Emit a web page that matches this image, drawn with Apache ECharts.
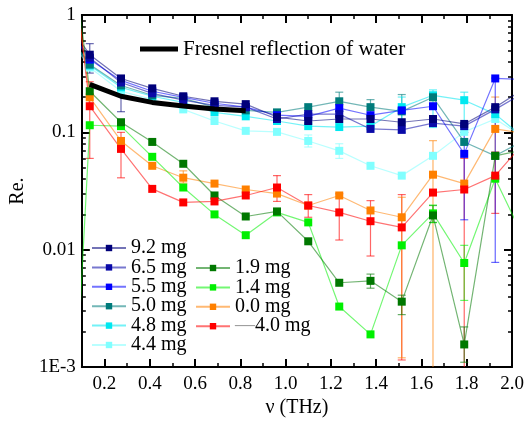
<!DOCTYPE html>
<html>
<head>
<meta charset="utf-8">
<script src="https://cdn.jsdelivr.net/npm/echarts@6/dist/echarts.min.js"></script>
<style>
  html, body { margin: 0; padding: 0; background: #fff; }
  #chart { width: 528px; height: 423px; }
</style>
</head>
<body>
<div id="chart"></div>
<script>
// frequencies (THz); first and last points lie outside the visible range
const freq = [-0.003, 0.135, 0.273, 0.411, 0.548, 0.686, 0.824, 0.962, 1.1, 1.237, 1.375, 1.513, 1.651, 1.789, 1.926, 2.064];

// reflectance per sample mass
const m92 = [1.1, 0.459, 0.288, 0.237, 0.203, 0.184, 0.174, 0.135, 0.125, 0.130, 0.130, 0.122, 0.130, 0.118, 0.164, 0.242];
const m65 = [1.0, 0.433, 0.266, 0.215, 0.188, 0.170, 0.164, 0.130, 0.143, 0.143, 0.107, 0.105, 0.120, 0.113, 0.157, 0.224];
const m55 = [1.0, 0.417, 0.277, 0.224, 0.199, 0.177, 0.164, 0.140, 0.137, 0.161, 0.140, 0.154, 0.167, 0.0656, 0.288, 0.282];
const m50 = [0.9, 0.378, 0.251, 0.207, 0.195, 0.164, 0.154, 0.148, 0.164, 0.184, 0.164, 0.151, 0.199, 0.0829, 0.0631, 0.0879];
const m48 = [0.9, 0.371, 0.242, 0.203, 0.180, 0.148, 0.137, 0.125, 0.113, 0.111, 0.113, 0.164, 0.207, 0.188, 0.143, 0.0862];
const m44 = [0.85, 0.357, 0.224, 0.191, 0.157, 0.125, 0.103, 0.101, 0.0845, 0.0696, 0.0519, 0.0428, 0.0631, 0.101, 0.130, 0.0879];
const m19 = [30, 0.224, 0.122, 0.0829, 0.0540, 0.0290, 0.0192, 0.0212, 0.0118, 0.00523, 0.00543, 0.00361, 0.0196, 0.00156, 0.0631, 0.072];
const m14 = [1e-6, 0.115, 0.113, 0.0619, 0.0339, 0.0200, 0.0133, 0.0208, 0.0171, 0.00328, 0.00190, 0.0109, 0.0204, 0.00771, 0.0403, 0.0112];
const m00 = [20, 0.199, 0.0845, 0.0519, 0.0411, 0.0366, 0.0326, 0.0301, 0.0238, 0.0290, 0.0216, 0.0189, 0.0436, 0.0366, 0.107, 0.0969];
const mNeg40 = [30, 0.167, 0.0723, 0.0330, 0.0253, 0.0258, 0.0290, 0.0339, 0.0238, 0.0208, 0.0175, 0.0155, 0.0307, 0.0326, 0.0428, 0.0862];

// Fresnel reflection of water, on freq[1..6]
const fresnel = [0.256, 0.203, 0.180, 0.168, 0.158, 0.153];

// error bars: [freq, low, high]
const errNeg40 = [[0.135, 0.06, 0.27], [0.273, 0.041, 0.10], [0.962, 0.0258, 0.0428], [1.1, 0.0189, 0.0295],
  [1.237, 0.0121, 0.03], [1.375, 0.00884, 0.0262], [1.513, 0.00115, 0.0295], [1.789, 0.0001, 0.06], [1.926, 0.0204, 0.068]];
const err00 = [[0.548, 0.037, 0.047], [1.513, 0.0012, 0.028], [1.651, 0.0001, 0.085], [1.926, 0.04, 0.2]];
const err55 = [[1.789, 0.018, 0.1], [1.926, 0.0078, 0.29]];
const err92 = [[0.135, 0.32, 0.57], [0.273, 0.15, 0.30]];
const err50 = [[1.237, 0.15, 0.22], [1.375, 0.14, 0.19], [1.513, 0.12, 0.21]];
const err48 = [[1.513, 0.10, 0.20], [1.651, 0.11, 0.23], [1.789, 0.10, 0.22]];
const err44 = [[1.1, 0.075, 0.095], [1.237, 0.06, 0.08]];
const err19 = [[1.375, 0.0047, 0.0062], [1.513, 0.0028, 0.0041], [1.651, 0.0171, 0.0238], [1.789, 0.0011, 0.0022]];
const err14 = [[1.789, 0.0037, 0.0109], [1.651, 0.017, 0.024]];

// tick positions
const xMajor = [0.2, 0.4, 0.6, 0.8, 1.0, 1.2, 1.4, 1.6, 1.8, 2.0];
const xMinor = [0.1, 0.3, 0.5, 0.7, 0.9, 1.1, 1.3, 1.5, 1.7, 1.9];
const yMajor = [0.001, 0.01, 0.1, 1];
const yMinor = [];
[0.001, 0.01, 0.1].forEach(d => { for (let k = 2; k <= 9; k++) yMinor.push(+(k * d).toPrecision(3)); });

const FONT = "'Liberation Serif', 'DejaVu Serif', serif";
const chart = echarts.init(document.getElementById('chart'));

const lineSeries = (name, vals, color) => ({
  name,
  type: 'line',
  data: vals.map((v, i) => [freq[i], v]),
  symbol: 'rect',
  symbolSize: 8,
  clip: true,
  itemStyle: { color },
  lineStyle: { color, width: 1.2, opacity: 0.55 },
  z: 3,
});

const errSeries = (errs, color) => ({
  type: 'custom',
  data: errs,
  silent: true,
  z: 2,
  renderItem: (params, api) => {
    const x = api.value(0);
    const loRaw = api.value(1), hiRaw = api.value(2);
    const lo = Math.max(loRaw, 0.001), hi = Math.min(hiRaw, 1);
    const p1 = api.coord([x, hi]);
    const p2 = api.coord([x, lo]);
    const style = { stroke: color, lineWidth: 1.2, opacity: 0.6 };
    const children = [{ type: 'line', shape: { x1: p1[0], y1: p1[1], x2: p2[0], y2: p2[1] }, style }];
    if (hiRaw <= 1) children.push({ type: 'line', shape: { x1: p1[0] - 4, y1: p1[1], x2: p1[0] + 4, y2: p1[1] }, style });
    if (loRaw >= 0.001) children.push({ type: 'line', shape: { x1: p2[0] - 4, y1: p2[1], x2: p2[0] + 4, y2: p2[1] }, style });
    return { type: 'group', children };
  },
});

const colors = {
  m92: '#00007a', m65: '#0a0aa8', m55: '#0000ff', m50: '#007b7b', m48: '#00e8f0', m44: '#80ffff',
  m19: '#007800', m14: '#00f000', m00: '#ff8000', mNeg40: '#ff0000',
};

const xBase = { type: 'value', min: 0.1, max: 2.0, splitLine: { show: false } };
const yBase = { type: 'log', min: 0.001, max: 1, splitLine: { show: false } };
const frame = { show: true, lineStyle: { color: '#000', width: 2 } };

const legendText = { fontFamily: FONT, fontSize: 20, color: '#000', lineHeight: 19, rich: { g: { color: '#999', fontFamily: FONT, fontSize: 20, lineHeight: 19 } } };

const option = {
  animation: false,
  backgroundColor: '#fff',
  grid: { left: 75, right: 16, top: 15, bottom: 53 },
  xAxis: [
    { ...xBase, position: 'bottom', axisLine: frame,
      axisTick: { inside: true, length: 8, customValues: xMajor, lineStyle: { color: '#000', width: 2 } },
      axisLabel: { customValues: xMajor, formatter: v => v.toFixed(1), fontFamily: FONT, fontSize: 19, color: '#000', margin: 7 },
      name: 'ν (THz)', nameLocation: 'middle', nameGap: 28, nameTextStyle: { fontFamily: FONT, fontSize: 20, color: '#000' } },
    { ...xBase, position: 'bottom', axisLine: { show: false },
      axisTick: { inside: true, length: 4, customValues: xMinor, lineStyle: { color: '#000', width: 1.5 } }, axisLabel: { show: false } },
    { ...xBase, position: 'top', axisLine: frame,
      axisTick: { inside: true, length: 8, customValues: xMajor, lineStyle: { color: '#000', width: 2 } }, axisLabel: { show: false } },
    { ...xBase, position: 'top', axisLine: { show: false },
      axisTick: { inside: true, length: 4, customValues: xMinor, lineStyle: { color: '#000', width: 1.5 } }, axisLabel: { show: false } },
  ],
  yAxis: [
    { ...yBase, position: 'left', axisLine: frame,
      axisTick: { inside: true, length: 8, customValues: yMajor, lineStyle: { color: '#000', width: 2 } },
      axisLabel: { customValues: yMajor, formatter: v => (v < 0.005 ? '1E-3' : String(+v.toPrecision(2))), fontFamily: FONT, fontSize: 19, color: '#000', margin: 6 },
      name: 'Re.', nameLocation: 'middle', nameGap: 48, nameRotate: 90, nameTextStyle: { fontFamily: FONT, fontSize: 20, color: '#000' } },
    { ...yBase, position: 'left', axisLine: { show: false },
      axisTick: { inside: true, length: 4, customValues: yMinor, lineStyle: { color: '#000', width: 1.5 } }, axisLabel: { show: false } },
    { ...yBase, position: 'right', axisLine: frame,
      axisTick: { inside: true, length: 8, customValues: yMajor, lineStyle: { color: '#000', width: 2 } }, axisLabel: { show: false } },
    { ...yBase, position: 'right', axisLine: { show: false },
      axisTick: { inside: true, length: 4, customValues: yMinor, lineStyle: { color: '#000', width: 1.5 } }, axisLabel: { show: false } },
  ],
  legend: [
    { data: ['9.2 mg', '6.5 mg', '5.5 mg', '5.0 mg', '4.8 mg', '4.4 mg'], orient: 'vertical', left: 86, top: 233,
      itemWidth: 34, itemHeight: 8, itemGap: -0.6, textStyle: legendText, selectedMode: false },
    { data: ['1.9 mg', '1.4 mg', '0.0 mg', '−4.0 mg'], orient: 'vertical', left: 190, top: 253,
      itemWidth: 34, itemHeight: 8, itemGap: -0.6, textStyle: legendText, selectedMode: false,
      formatter: n => (n.startsWith('−') ? '{g|—}' + n.slice(1) : n) },
    { data: [{ name: 'Fresnel reflection of water', icon: 'rect' }], left: 135, top: 33, itemWidth: 38, itemHeight: 5,
      itemGap: 0, textStyle: { ...legendText, fontSize: 21, lineHeight: 22 }, selectedMode: false },
  ],
  series: [
    errSeries(errNeg40, colors.mNeg40), errSeries(err00, colors.m00), errSeries(err55, colors.m55),
    errSeries(err92, colors.m92), errSeries(err50, colors.m50), errSeries(err48, colors.m48),
    errSeries(err44, colors.m44), errSeries(err19, colors.m19), errSeries(err14, colors.m14),
    lineSeries('4.4 mg', m44, colors.m44),
    lineSeries('4.8 mg', m48, colors.m48),
    lineSeries('5.0 mg', m50, colors.m50),
    lineSeries('5.5 mg', m55, colors.m55),
    lineSeries('6.5 mg', m65, colors.m65),
    lineSeries('9.2 mg', m92, colors.m92),
    lineSeries('0.0 mg', m00, colors.m00),
    lineSeries('1.4 mg', m14, colors.m14),
    lineSeries('1.9 mg', m19, colors.m19),
    lineSeries('−4.0 mg', mNeg40, colors.mNeg40),
    { name: 'Fresnel reflection of water', type: 'line', data: fresnel.map((v, i) => [freq[i + 1], v]),
      symbol: 'none', lineStyle: { color: '#000', width: 5 }, itemStyle: { color: '#000' }, z: 5 },
  ],
};

chart.setOption(option);
</script>
</body>
</html>
